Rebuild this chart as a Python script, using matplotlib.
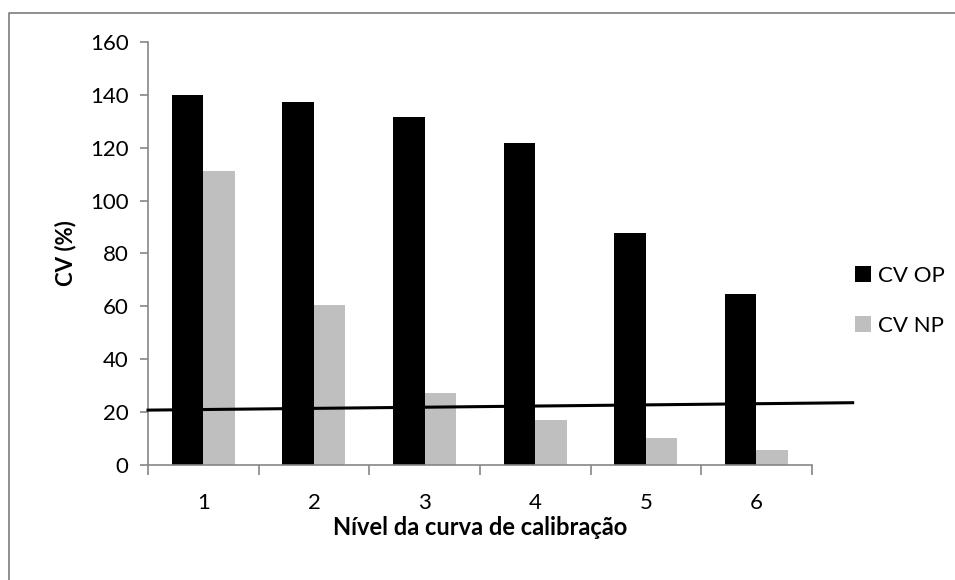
import numpy as np
import matplotlib
matplotlib.use("Agg")
import matplotlib.pyplot as plt
from matplotlib.lines import Line2D

# données
niveaux = ["1", "2", "3", "4", "5", "6"]
cv_op = [140, 137.4, 131.5, 121.6, 87.6, 64.6]
cv_np = [111.3, 60.6, 27.3, 17.0, 10.1, 5.9]
# droite de référence (extrémités)
ligne_x = [0.5, 6.87]
ligne_y = [20.8, 23.6]

plt.rcParams['font.family'] = ['Lato', 'DejaVu Sans']

fig = plt.figure(figsize=(9.55, 5.8), dpi=100)
ax = fig.add_axes([0.155, 0.198, 0.695, 0.730])

x = np.arange(1, len(niveaux) + 1)
w = 0.285
gris = '#868686'

ax.bar(x - w / 2, cv_op, width=w, color='black', label='CV OP', zorder=2)
ax.bar(x + w / 2, cv_np, width=w, color='#BFBFBF', label='CV NP', zorder=2)
ax.plot(ligne_x, ligne_y, color='black', lw=2.2, clip_on=False, zorder=3)

ax.set_xlim(0.5, 6.5)
ax.set_ylim(0, 160)
ax.set_yticks(range(0, 161, 20))
ax.set_xticks(x)
ax.set_xticklabels(niveaux)
ax.set_xticks(np.arange(0.5, 7, 1), minor=True)
ax.tick_params(axis='x', which='major', length=0, pad=20, labelsize=16)
ax.tick_params(axis='x', which='minor', length=7, color=gris, width=1.2)
ax.tick_params(axis='y', length=6, color=gris, width=1.2, labelsize=16, pad=8)

for s in ['top', 'right']:
    ax.spines[s].set_visible(False)
for s in ['left', 'bottom']:
    ax.spines[s].set_color(gris)
    ax.spines[s].set_linewidth(1.2)

ax.set_ylabel('CV (%)', fontsize=16, fontweight='bold', labelpad=10)
ax.set_xlabel('Nível da curva de calibração', fontsize=17, fontweight='bold', labelpad=2)

ax.legend(loc='center left', bbox_to_anchor=(0.895, 0.481), bbox_transform=fig.transFigure,
          frameon=False, fontsize=16, handlelength=0.73, handleheight=0.73,
          handletextpad=0.3, labelspacing=1.35, borderpad=0, borderaxespad=0)

# cadre extérieur (bords gauche et haut visibles)
fig.lines.append(Line2D([0.0099, 0.0099, 1.0], [0.0, 0.978, 0.978], transform=fig.transFigure,
                        color=gris, lw=1.3))

fig.savefig('out.png', dpi=100)
